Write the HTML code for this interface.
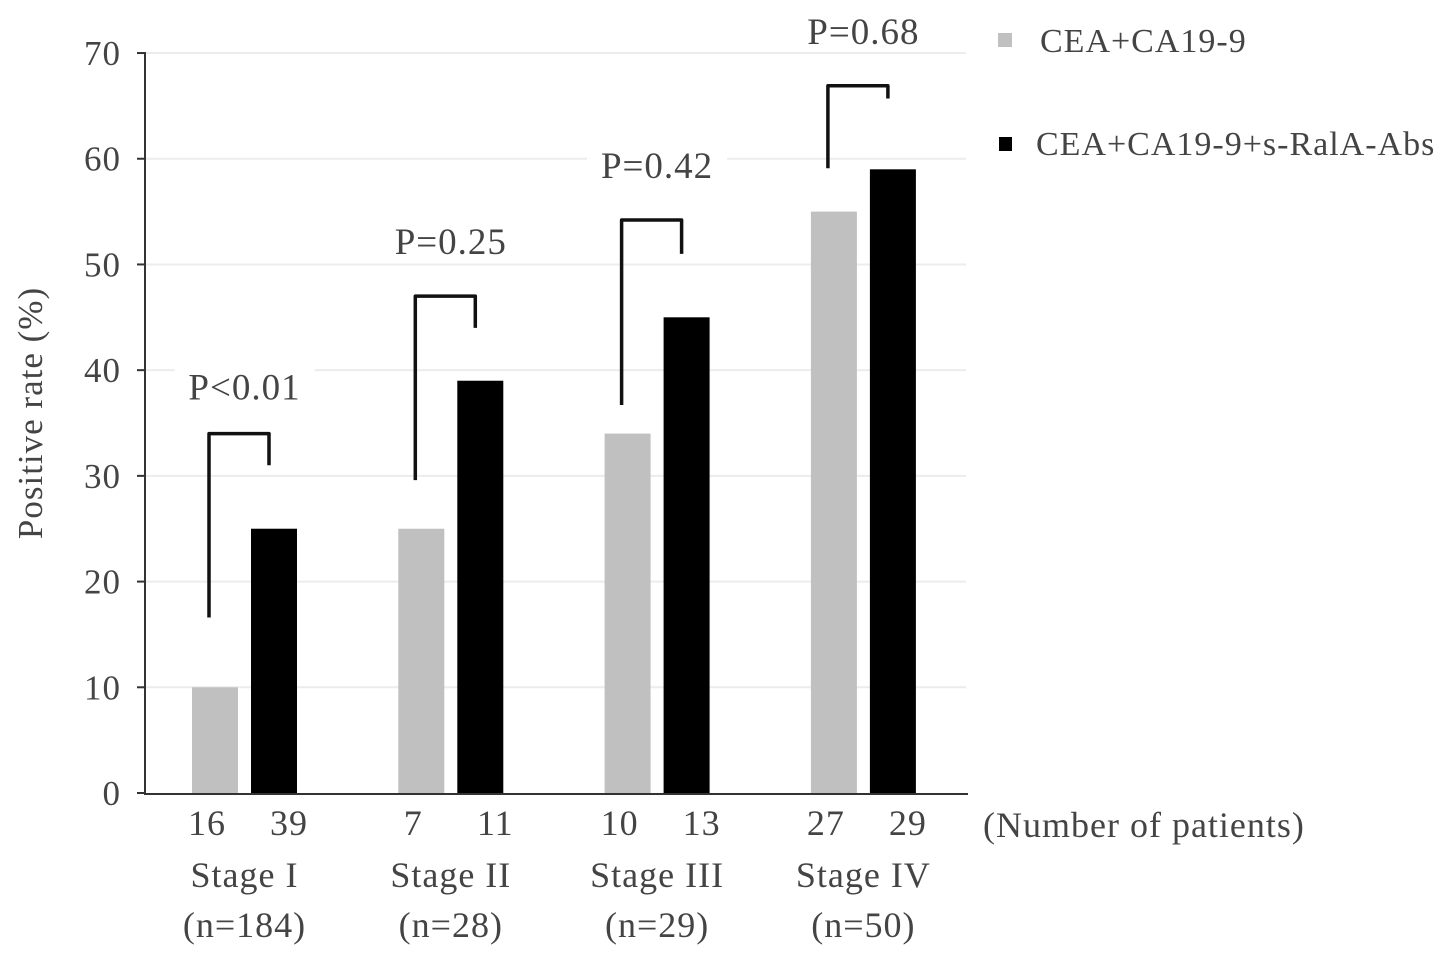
<!DOCTYPE html>
<html><head><meta charset="utf-8"><style>
body{margin:0;background:#fff}
svg text{font-family:"Liberation Serif",serif;fill:#444;letter-spacing:1px}
</style></head><body>
<svg width="1441" height="961" viewBox="0 0 1441 961">
<g id="grid"></g>
<g id="bars"></g>
<g id="brackets"></g>
<g id="axes"></g>
<g id="labels"></g>
<g>
<rect x="998" y="33" width="14" height="14" fill="#c0c0c0"/>
<text x="1040" y="52" font-size="34">CEA+CA19-9</text>
<rect x="999" y="137" width="13" height="14" fill="#000"/>
<text x="1036" y="155" font-size="34">CEA+CA19-9+s-RalA-Abs</text>
</g>
<text x="983" y="837" font-size="36">(Number of patients)</text>
<text transform="translate(42,413) rotate(-90)" text-anchor="middle" font-size="35">Positive rate (%)</text>
</svg>
<script>
const stages=["Stage I","Stage II","Stage III","Stage IV"];
const stageN=["(n=184)","(n=28)","(n=29)","(n=50)"];
const grayVals=[10,25,34,55];
const blackVals=[25,39,45,59];
const grayCounts=["16","7","10","27"];
const blackCounts=["39","11","13","29"];
const pLabels=["P<0.01","P=0.25","P=0.42","P=0.68"];
const bracketTop=[34,47,54.2,66.9];
const bracketLeftBottom=[16.6,29.6,36.7,59.1];
const bracketRightBottom=[31,44,51,65.7];
const yTicks=[0,10,20,30,40,50,60,70];
const NS="http://www.w3.org/2000/svg";
const y=v=>793-v*10.571;
const gx=i=>192+i*206.3;
function mk(tag,attrs,parent,txt){const e=document.createElementNS(NS,tag);for(const k in attrs)e.setAttribute(k,attrs[k]);if(txt!==undefined)e.textContent=txt;document.getElementById(parent).appendChild(e);return e;}
yTicks.forEach(t=>{
 if(t>0){const g=mk('line',{x1:146,x2:966,y1:y(t),y2:y(t),stroke:'#ececec','stroke-width':2},'grid');
 
 }
 const tk=mk('line',{x1:137,x2:146,y1:y(t),y2:y(t),stroke:'#333','stroke-width':2},'axes');
 
 
 const tl=mk('text',{x:121,y:y(t)+12,'text-anchor':'end','font-size':35},'labels',String(t));
 
 
});
const ya=mk('line',{x1:145,x2:145,y1:y(70),y2:794,stroke:'#333','stroke-width':2},'axes');


const xa=mk('line',{x1:144,x2:968,y1:794,y2:794,stroke:'#333','stroke-width':2},'axes');


stages.forEach((s,i)=>{
 const x0=gx(i),x1=x0+59;
 const b1=mk('rect',{x:x0,y:y(grayVals[i]),width:46,height:793-y(grayVals[i]),fill:'#c0c0c0'},'bars');
 
 
 const b2=mk('rect',{x:x1,y:y(blackVals[i]),width:46,height:793-y(blackVals[i]),fill:'#000'},'bars');
 
 
 const lx=x0+17,rx=x1+18;
 const br=mk('path',{d:`M${lx},${y(bracketLeftBottom[i])}V${y(bracketTop[i])}H${rx}V${y(bracketRightBottom[i])}`,fill:'none',stroke:'#111','stroke-width':3.5,'stroke-linejoin':'round'},'brackets');
 
 
 const cx=(x0+x1+46)/2;
 const off=i===0?34:42;
 const bg=mk('rect',{x:cx-70,y:y(bracketTop[i])-off-36,width:140,height:40,fill:'#fff'},'labels');
 
 
 const pl=mk('text',{x:cx,y:y(bracketTop[i])-off,'text-anchor':'middle','font-size':37},'labels',pLabels[i]);
 
 
 const c1=mk('text',{x:x0+15,y:835,'text-anchor':'middle','font-size':36},'labels',grayCounts[i]);
 
 
 const c2=mk('text',{x:x1+38,y:835,'text-anchor':'middle','font-size':36},'labels',blackCounts[i]);
 
 
 const sl=mk('text',{x:cx,y:887,'text-anchor':'middle','font-size':36},'labels',s);
 
 
 const nl=mk('text',{x:cx,y:937,'text-anchor':'middle','font-size':36},'labels',stageN[i]);
 
 
});
</script>
</body></html>
